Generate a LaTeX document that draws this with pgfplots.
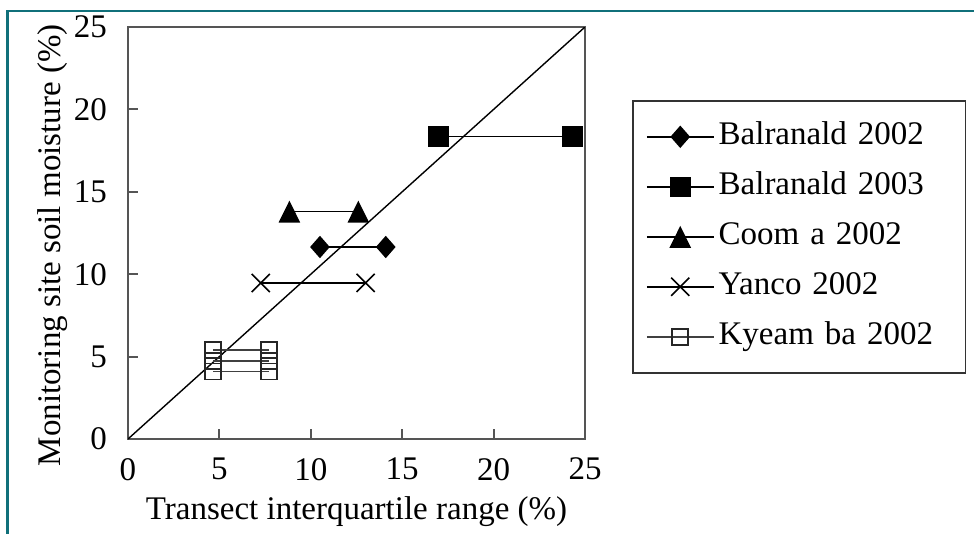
\documentclass[border=0pt]{standalone}
\usepackage{pgfplots}
\pgfplotsset{compat=1.18}
\usepackage{fontspec}
\setmainfont{Liberation Serif}
\definecolor{frameteal}{RGB}{16,112,122}
\definecolor{axgray}{RGB}{85,85,85}
\begin{document}
\begin{tikzpicture}[font=\fontsize{16.5}{20}\selectfont]
\path[use as bounding box] (0,0) rectangle (487pt,-267pt);
\fill[white] (0,0) rectangle (487pt,-267pt);
\draw[frameteal, line width=1.3pt] (3.65pt,-267pt) -- (3.65pt,-5.5pt) -- (487pt,-5.5pt);
\begin{axis}[
 at={(64pt,-219.5pt)}, anchor=south west,
 scale only axis, width=228.5pt, height=206pt,
 xmin=0,xmax=25,ymin=0,ymax=25,
 xtick={0,5,...,25}, ytick={0,5,...,25},
 tick align=inside, tick pos=left,
 major tick length=5pt,
 axis line style={axgray, line width=1pt},
 every tick/.style={axgray, line width=1pt},
 /pgf/number format/assume math mode=true,
 xticklabel style={yshift=-6pt},
 yticklabel style={xshift=-7pt},
 xlabel={Transect interquartile range (\%)},
 ylabel={Monitoring site soil moisture (\%)},
 xlabel style={at={(axis description cs:0.5,-0.177)}, anchor=center},
 ylabel style={at={(axis description cs:-0.166,0.47)}, anchor=center},
 legend style={at={(axis description cs:1.103,0.8228)}, anchor=north west, draw=black!80, line width=0.8pt, inner xsep=6.5pt, inner ysep=8pt, row sep=5pt, nodes={inner sep=2pt, text height=12pt, text depth=4pt, text width=115pt, align=left}},
 legend cell align=left,
 legend image code/.code={\draw[mark repeat=2,mark phase=2] plot coordinates {(0pt,0pt) (16.75pt,0pt) (33.5pt,0pt)};},
]
\addplot[black, line width=0.7pt, forget plot] coordinates {(0,0) (25,25)};
\addplot[black, line width=0.8pt, mark=diamond*, mark size=5pt, mark options={xscale=1.17, solid}] coordinates {(10.5,11.65) (14.1,11.65)};
\addlegendentry{Balranald 2002}
\addplot[black, line width=0.8pt, mark=square*, mark size=4.75pt] coordinates {(17.0,18.35) (24.3,18.35)};
\addlegendentry{Balranald 2003}
\addplot[black, line width=0.8pt, mark=triangle*, mark size=5.5pt, mark options={yscale=1.17,yshift=-1.6pt}] coordinates {(8.83,13.8) (12.6,13.8)};
\addlegendentry{Coom a 2002}
\addplot[black, line width=0.8pt, mark=x, mark size=6.4pt] coordinates {(7.26,9.47) (13.0,9.47)};
\addlegendentry{Yanco 2002}
\addplot[black!75, line width=0.9pt, mark=square, mark size=4pt, mark options={black!85, fill=white, line width=0.8pt}, forget plot] coordinates {(4.65,4.1) (7.7,4.1)};
\addplot[black!75, line width=0.9pt, mark=square, mark size=4pt, mark options={black!85, fill=white, line width=0.8pt}, forget plot] coordinates {(4.65,4.75) (7.7,4.75)};
\addplot[black!75, line width=0.9pt, mark=square, mark size=4pt, mark options={black!85, fill=white, line width=0.8pt}] coordinates {(4.65,5.4) (7.7,5.4)};
\addlegendentry{Kyeam ba 2002}
\end{axis}
\end{tikzpicture}
\end{document}
